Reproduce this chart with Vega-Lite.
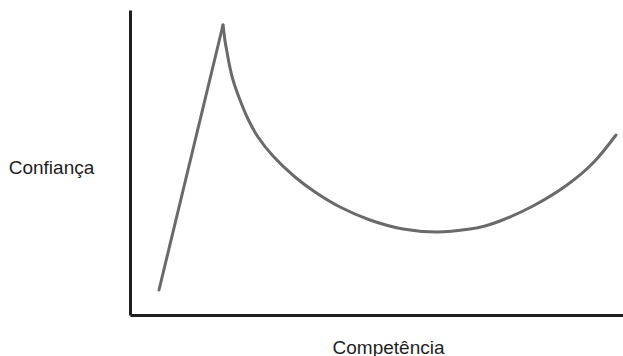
{
  "$schema": "https://vega.github.io/schema/vega-lite/v6.json",
  "width": 493,
  "height": 305,
  "autosize": {"type": "none"},
  "padding": {"left": 130, "top": 10, "right": 0, "bottom": 41},
  "background": "white",
  "config": {"view": {"stroke": null}},
  "data": {
    "values": [
      {"seg": "a", "x": 29, "y": 25},
      {"seg": "a", "x": 93, "y": 290},
      {"seg": "b", "x": 93, "y": 290},
      {"seg": "b", "x": 94, "y": 282},
      {"seg": "b", "x": 95, "y": 274},
      {"seg": "b", "x": 97, "y": 263},
      {"seg": "b", "x": 99, "y": 252},
      {"seg": "b", "x": 103, "y": 235},
      {"seg": "b", "x": 110, "y": 215},
      {"seg": "b", "x": 118, "y": 196},
      {"seg": "b", "x": 128, "y": 178},
      {"seg": "b", "x": 143, "y": 159},
      {"seg": "b", "x": 165, "y": 138},
      {"seg": "b", "x": 185, "y": 123},
      {"seg": "b", "x": 210, "y": 108},
      {"seg": "b", "x": 240, "y": 95},
      {"seg": "b", "x": 273, "y": 86},
      {"seg": "b", "x": 307, "y": 83},
      {"seg": "b", "x": 340, "y": 86},
      {"seg": "b", "x": 355, "y": 89},
      {"seg": "b", "x": 370, "y": 94},
      {"seg": "b", "x": 403, "y": 109},
      {"seg": "b", "x": 437, "y": 130},
      {"seg": "b", "x": 463, "y": 152},
      {"seg": "b", "x": 486, "y": 180}
    ]
  },
  "mark": {"type": "line", "interpolate": "catmull-rom", "color": "#6a6a6a", "strokeWidth": 3, "strokeCap": "round", "strokeJoin": "miter"},
  "encoding": {
    "detail": {"field": "seg"},
    "x": {
      "field": "x", "type": "quantitative",
      "scale": {"domain": [0, 493], "nice": false, "zero": false},
      "axis": {
        "title": "Competência", "grid": false, "ticks": false, "labels": false,
        "domainColor": "#1e1e1e", "domainWidth": 3,
        "titleFont": "Liberation Sans", "titleFontSize": 19, "titleFontWeight": "normal", "titleColor": "#1e1e1e",
        "titleX": 258, "titleY": 38, "titleAlign": "center", "titleBaseline": "alphabetic"
      }
    },
    "y": {
      "field": "y", "type": "quantitative",
      "scale": {"domain": [0, 305], "nice": false, "zero": false},
      "axis": {
        "title": "Confiança", "grid": false, "ticks": false, "labels": false,
        "domainColor": "#1e1e1e", "domainWidth": 3,
        "titleFont": "Liberation Sans", "titleFontSize": 19, "titleFontWeight": "normal", "titleColor": "#1e1e1e",
        "titleAngle": 0, "titleX": -79, "titleY": 163, "titleAlign": "center", "titleBaseline": "alphabetic"
      }
    }
  }
}
